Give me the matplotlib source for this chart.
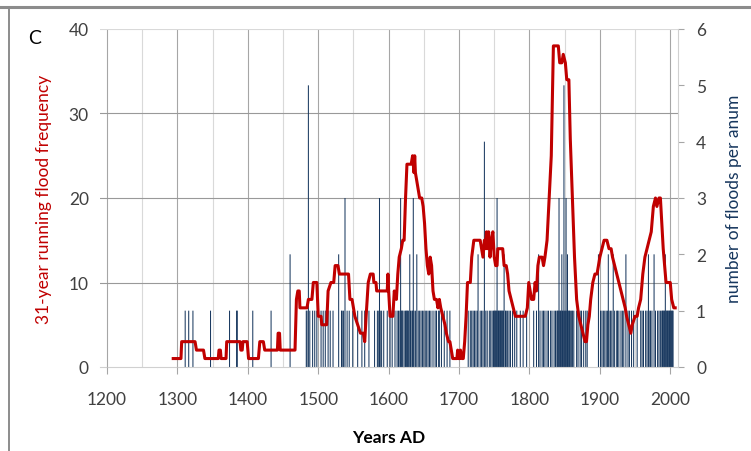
import matplotlib.pyplot as plt
from matplotlib.lines import Line2D

# Floods per year (historical record)
flood_years = [
    1311, 1316, 1322, 1347, 1374, 1384, 1385, 1407, 1433, 1460,
    1483, 1484, 1486, 1488, 1492, 1495, 1498, 1504, 1507, 1510,
    1514, 1517, 1521, 1529, 1533, 1534, 1536, 1538, 1541, 1544,
    1549, 1556, 1562, 1566, 1572, 1580, 1584, 1586, 1587, 1588,
    1590, 1593, 1598,
    1602, 1605, 1609, 1612, 1614, 1616, 1617, 1618, 1619, 1620,
    1622, 1624, 1625, 1626, 1627, 1628, 1630, 1631, 1633, 1634,
    1635, 1636, 1638, 1640, 1642, 1644, 1646, 1648, 1650, 1652,
    1654, 1656, 1658, 1660, 1663, 1666, 1668, 1671, 1672, 1675,
    1679, 1683, 1687,
    1713, 1716, 1718, 1720, 1722, 1724, 1726, 1727, 1730, 1732,
    1734, 1736, 1738, 1740, 1743, 1745, 1747, 1749, 1750, 1751,
    1752, 1753, 1754, 1755, 1756, 1757, 1758, 1759, 1760, 1761,
    1762, 1763, 1764, 1766, 1767, 1769, 1771, 1773, 1776, 1779,
    1782, 1787, 1791, 1796,
    1806, 1810, 1813, 1815, 1818, 1820, 1822, 1825, 1827, 1830,
    1832, 1835, 1837, 1839, 1840, 1841, 1842, 1843, 1844, 1845,
    1846, 1847, 1848, 1849, 1850, 1851, 1852, 1853, 1854, 1855,
    1856, 1857, 1858, 1860, 1861, 1863, 1867, 1869, 1872, 1874,
    1877, 1880, 1882,
    1898, 1901, 1903, 1905, 1907, 1909, 1911, 1912, 1913, 1915,
    1917, 1919, 1921, 1924, 1925, 1927, 1930, 1932, 1934, 1937,
    1940, 1942, 1945, 1948, 1953, 1958, 1960, 1962, 1965, 1967,
    1969, 1970, 1972, 1974, 1977, 1979, 1982, 1984, 1986, 1988,
    1989, 1990, 1991, 1992, 1993, 1994, 1995, 1996, 1997, 1998,
    1999, 2000, 2001, 2002, 2003, 2004,
]
flood_counts = [
    1, 1, 1, 1, 1, 1, 1, 1, 1, 2,
    1, 1, 5, 1, 1, 1, 1, 1, 1, 1,
    1, 1, 1, 2, 1, 1, 1, 3, 1, 1,
    1, 1, 1, 1, 1, 1, 1, 1, 3, 1,
    1, 1, 1,
    1, 1, 1, 1, 1, 1, 3, 1, 1, 1,
    1, 1, 1, 1, 1, 1, 2, 1, 1, 1,
    3, 1, 1, 2, 1, 1, 1, 1, 1, 1,
    1, 1, 1, 1, 1, 1, 1, 1, 1, 1,
    1, 1, 1,
    1, 1, 1, 1, 1, 1, 1, 2, 1, 1,
    1, 4, 1, 1, 1, 1, 1, 1, 1, 1,
    1, 1, 3, 1, 1, 1, 1, 1, 1, 1,
    1, 1, 2, 1, 1, 1, 1, 1, 1, 1,
    1, 1, 1, 1,
    1, 1, 2, 1, 1, 1, 1, 1, 1, 1,
    1, 1, 1, 1, 1, 1, 3, 1, 1, 1,
    2, 1, 1, 5, 1, 1, 3, 1, 2, 1,
    1, 1, 1, 1, 1, 1, 1, 1, 1, 1,
    1, 1, 1,
    2, 1, 1, 1, 1, 1, 1, 2, 1, 1,
    1, 2, 1, 1, 1, 1, 1, 1, 1, 2,
    1, 1, 1, 1, 1, 1, 1, 1, 1, 1,
    2, 1, 1, 1, 2, 1, 1, 1, 1, 1,
    1, 1, 1, 1, 2, 1, 1, 1, 1, 1,
    1, 1, 1, 1, 1, 1,
]

# 31-year running flood frequency
run_years = [
    1294, 1305, 1306, 1325, 1327, 1337, 1339, 1358, 1359, 1361,
    1362, 1369, 1370, 1389, 1390, 1392, 1393, 1399, 1401, 1415,
    1417, 1422, 1424, 1442, 1443, 1445, 1446, 1467, 1469, 1471,
    1473, 1474, 1484, 1486, 1491, 1493, 1498, 1500, 1504, 1505,
    1512, 1514, 1518, 1522, 1524, 1528, 1530, 1543, 1545, 1548,
    1552, 1556, 1560, 1564, 1566, 1568, 1571, 1574, 1578, 1579,
    1582, 1583, 1598, 1599, 1600, 1602, 1606, 1608, 1611, 1613,
    1615, 1618, 1620, 1622, 1624, 1626, 1632, 1634, 1636, 1637,
    1638, 1640, 1642, 1644, 1647, 1649, 1651, 1653, 1655, 1657,
    1659, 1661, 1663, 1665, 1668, 1670, 1672, 1674, 1677, 1680,
    1682, 1685, 1687, 1689, 1691, 1697, 1698, 1699, 1701, 1702,
    1704, 1706, 1708, 1710, 1712, 1716, 1718, 1721, 1730, 1732,
    1734, 1736, 1737, 1739, 1740, 1742, 1744, 1746, 1748, 1750,
    1752, 1754, 1755, 1762, 1764, 1767, 1769, 1771, 1774, 1777,
    1780, 1794, 1797, 1799, 1801, 1803, 1806, 1808, 1810, 1812,
    1814, 1818, 1820, 1822, 1825, 1828, 1831, 1834, 1841, 1843,
    1846, 1848, 1851, 1853, 1856, 1858, 1861, 1864, 1867, 1870,
    1873, 1876, 1879, 1881, 1883, 1885, 1887, 1890, 1893, 1896,
    1898, 1900, 1903, 1906, 1910, 1913, 1916, 1918, 1921, 1924,
    1927, 1930, 1933, 1936, 1938, 1941, 1944, 1946, 1950, 1953,
    1955, 1958, 1961, 1964, 1967, 1970, 1973, 1976, 1979, 1981,
    1984, 1986, 1988, 1990, 1992, 1994, 2000, 2002, 2005, 2007,
]
run_freq = [
    1, 1, 3, 3, 2, 2, 1, 1, 2, 2,
    1, 1, 3, 3, 2, 2, 3, 3, 1, 1,
    3, 3, 2, 2, 4, 4, 2, 2, 8, 9,
    9, 7, 7, 8, 8, 10, 10, 6, 6, 5,
    5, 9, 10, 10, 12, 12, 11, 11, 8, 8,
    6, 5, 4, 4, 3, 6, 10, 11, 11, 10,
    10, 9, 9, 11, 9, 6, 6, 9, 8, 11,
    13, 14, 15, 15, 20, 24, 24, 25, 23, 25,
    23, 22, 21, 20, 20, 19, 17, 14, 12, 11,
    13, 12, 9, 8, 8, 7, 8, 7, 6, 5,
    4, 3, 3, 2, 1, 1, 2, 1, 1, 2,
    1, 1, 3, 6, 10, 10, 13, 15, 15, 14,
    13, 15, 14, 16, 14, 16, 13, 15, 16, 13,
    12, 12, 14, 14, 12, 12, 11, 9, 8, 7,
    6, 6, 7, 10, 9, 8, 8, 10, 9, 12,
    13, 13, 12, 13, 15, 20, 25, 38, 38, 36,
    36, 37, 36, 34, 34, 27, 20, 13, 8, 6,
    5, 4, 3, 3, 5, 6, 8, 10, 11, 11,
    12, 13, 14, 15, 15, 14, 14, 13, 12, 11,
    10, 9, 8, 7, 6, 5, 4, 5, 6, 6,
    7, 8, 11, 13, 14, 15, 16, 19, 20, 19,
    20, 20, 17, 14, 12, 10, 10, 8, 7, 7,
]
assert len(flood_years) == len(flood_counts)
assert len(run_years) == len(run_freq)

RED = "#c00000"
NAVY = "#17375e"
TXT = "#404040"
FONT = "Lato"
FS = 12.5

plt.rcParams["font.family"] = FONT

fig = plt.figure(figsize=(7.51, 4.52), dpi=100)
ax = fig.add_axes([100 / 751, 1 - 368 / 452, 578 / 751, 338 / 452])
ax2 = ax.twinx()
ax.set_zorder(2)
ax.patch.set_visible(False)
ax2.set_zorder(1)

ax.set_xlim(1190, 2011)
ax.set_ylim(0, 40)
ax2.set_ylim(0, 6)

# gridlines, drawn under the bars
for yr in range(1200, 2001, 50):
    col = "#a6a6a6" if yr % 100 == 0 else "#d9d9d9"
    ax2.axvline(yr, color=col, lw=0.8, zorder=0)
ytrans = ax.get_yaxis_transform()
for v in (10, 20, 30):
    ax2.plot([0, 1], [v, v], transform=ytrans, color="#999999", lw=0.8, zorder=0)
ax2.plot([0, 1], [40, 40], transform=ytrans, color="#d9d9d9", lw=0.8, zorder=0)

# bars are thinner than a pixel, so keep them unsnapped
bars = ax2.bar(flood_years, flood_counts, width=1.45, color=NAVY, linewidth=0, zorder=2)
for b in bars:
    b.set_snap(False)
ax.plot(run_years, run_freq, color=RED, lw=2.2, solid_joinstyle="round", zorder=3)

for a in (ax, ax2):
    for s in a.spines.values():
        s.set_visible(False)
ax2.spines["bottom"].set_visible(True)
ax2.spines["bottom"].set_color("#d0d0d0")
ax2.spines["right"].set_visible(True)
ax2.spines["right"].set_color("#d0d0d0")

ax.set_xticks(range(1200, 2001, 100))
ax.set_yticks(range(0, 41, 10))
ax2.set_yticks(range(0, 7))
ax.tick_params(axis="x", direction="out", length=5, color="#a6a6a6",
               labelsize=FS, labelcolor=TXT, pad=12)
ax.tick_params(axis="y", length=0, labelsize=FS, labelcolor=TXT, pad=8)
ax2.tick_params(axis="y", direction="out", length=4, color="#a6a6a6",
                labelsize=FS, labelcolor=TXT, pad=9)

ax.set_ylabel("31-year running flood frequency", color=RED, fontsize=FS, labelpad=12)
ax2.set_ylabel("number of floods per anum", color=NAVY, fontsize=FS, labelpad=14)
ax.set_xlabel("Years AD", fontsize=FS, fontweight="bold", color="black", labelpad=16)

fig.text(35 / 751, 1 - 38 / 452, "C", fontsize=14, ha="center", va="center")

# panel frame
fig.add_artist(Line2D([0, 1], [1 - 8 / 452] * 2, color="#8c8c8c", lw=2.2))
fig.add_artist(Line2D([9 / 751] * 2, [0, 1 - 8 / 452], color="#8c8c8c", lw=1.4))

fig.savefig("out.png", dpi=100)
